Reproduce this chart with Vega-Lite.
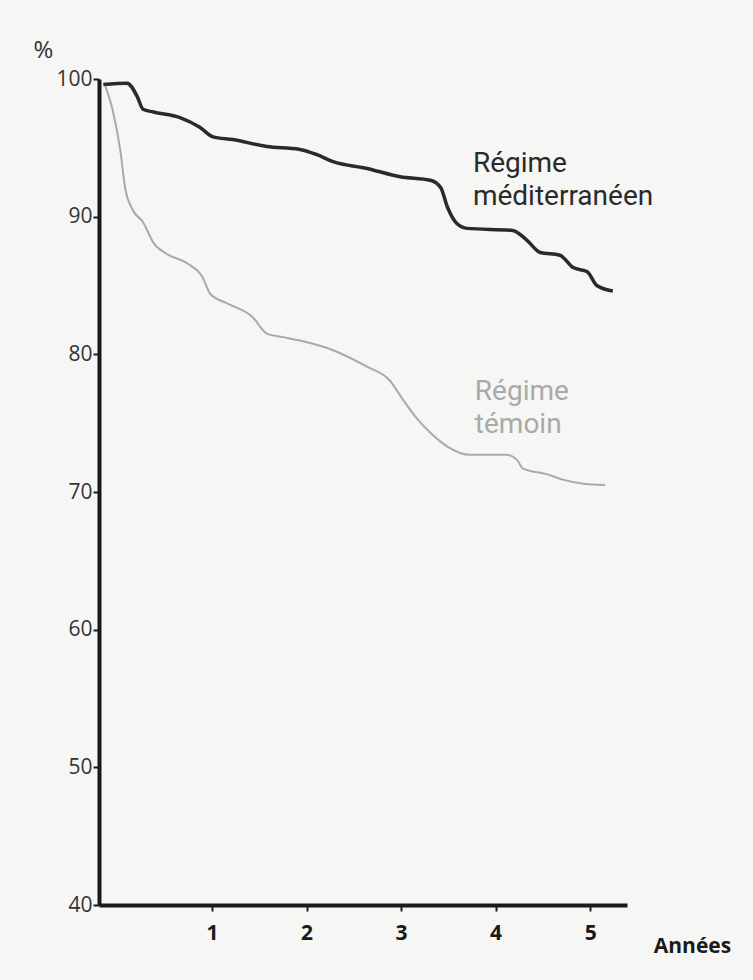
{
  "$schema": "https://vega.github.io/schema/vega-lite/v6.json",
  "width": 528,
  "height": 826,
  "autosize": "none",
  "padding": {"left": 99, "top": 79, "right": 126, "bottom": 75},
  "background": "#f6f6f4",
  "config": {
    "view": {"stroke": null},
    "font": "Open Sans",
    "axis": {"grid": false, "domainColor": "#1a1a1a", "tickColor": "#1a1a1a", "domainWidth": 4, "tickWidth": 2, "tickSize": 6}
  },
  "datasets": {
    "curves": [
      {"annees": -0.15, "pct": 99.6, "regime": "Régime méditerranéen"},
      {"annees": 0.1, "pct": 99.7, "regime": "Régime méditerranéen"},
      {"annees": 0.21, "pct": 98.7, "regime": "Régime méditerranéen"},
      {"annees": 0.27, "pct": 97.8, "regime": "Régime méditerranéen"},
      {"annees": 0.38, "pct": 97.6, "regime": "Régime méditerranéen"},
      {"annees": 0.66, "pct": 97.2, "regime": "Régime méditerranéen"},
      {"annees": 0.87, "pct": 96.5, "regime": "Régime méditerranéen"},
      {"annees": 1.01, "pct": 95.8, "regime": "Régime méditerranéen"},
      {"annees": 1.22, "pct": 95.6, "regime": "Régime méditerranéen"},
      {"annees": 1.58, "pct": 95.1, "regime": "Régime méditerranéen"},
      {"annees": 1.92, "pct": 94.9, "regime": "Régime méditerranéen"},
      {"annees": 2.11, "pct": 94.5, "regime": "Régime méditerranéen"},
      {"annees": 2.28, "pct": 94.0, "regime": "Régime méditerranéen"},
      {"annees": 2.64, "pct": 93.5, "regime": "Régime méditerranéen"},
      {"annees": 2.99, "pct": 92.9, "regime": "Régime méditerranéen"},
      {"annees": 3.31, "pct": 92.65, "regime": "Régime méditerranéen"},
      {"annees": 3.42, "pct": 92.1, "regime": "Régime méditerranéen"},
      {"annees": 3.49, "pct": 90.7, "regime": "Régime méditerranéen"},
      {"annees": 3.59, "pct": 89.5, "regime": "Régime méditerranéen"},
      {"annees": 3.7, "pct": 89.15, "regime": "Régime méditerranéen"},
      {"annees": 4.18, "pct": 89.0, "regime": "Régime méditerranéen"},
      {"annees": 4.33, "pct": 88.3, "regime": "Régime méditerranéen"},
      {"annees": 4.47, "pct": 87.4, "regime": "Régime méditerranéen"},
      {"annees": 4.68, "pct": 87.2, "regime": "Régime méditerranéen"},
      {"annees": 4.82, "pct": 86.3, "regime": "Régime méditerranéen"},
      {"annees": 4.97, "pct": 86.0, "regime": "Régime méditerranéen"},
      {"annees": 5.07, "pct": 85.0, "regime": "Régime méditerranéen"},
      {"annees": 5.24, "pct": 84.6, "regime": "Régime méditerranéen"},
      {"annees": -0.13, "pct": 99.5, "regime": "Régime témoin"},
      {"annees": -0.05, "pct": 97.7, "regime": "Régime témoin"},
      {"annees": 0.03, "pct": 94.8, "regime": "Régime témoin"},
      {"annees": 0.08, "pct": 92.1, "regime": "Régime témoin"},
      {"annees": 0.16, "pct": 90.5, "regime": "Régime témoin"},
      {"annees": 0.27, "pct": 89.6, "regime": "Régime témoin"},
      {"annees": 0.38, "pct": 88.1, "regime": "Régime témoin"},
      {"annees": 0.52, "pct": 87.3, "regime": "Régime témoin"},
      {"annees": 0.74, "pct": 86.6, "regime": "Régime témoin"},
      {"annees": 0.9, "pct": 85.6, "regime": "Régime témoin"},
      {"annees": 0.98, "pct": 84.4, "regime": "Régime témoin"},
      {"annees": 1.16, "pct": 83.7, "regime": "Régime témoin"},
      {"annees": 1.43, "pct": 82.7, "regime": "Régime témoin"},
      {"annees": 1.58, "pct": 81.5, "regime": "Régime témoin"},
      {"annees": 1.75, "pct": 81.25, "regime": "Régime témoin"},
      {"annees": 1.93, "pct": 81.0, "regime": "Régime témoin"},
      {"annees": 2.28, "pct": 80.3, "regime": "Régime témoin"},
      {"annees": 2.64, "pct": 79.1, "regime": "Régime témoin"},
      {"annees": 2.88, "pct": 78.1, "regime": "Régime témoin"},
      {"annees": 3.02, "pct": 76.7, "regime": "Régime témoin"},
      {"annees": 3.16, "pct": 75.4, "regime": "Régime témoin"},
      {"annees": 3.31, "pct": 74.3, "regime": "Régime témoin"},
      {"annees": 3.49, "pct": 73.3, "regime": "Régime témoin"},
      {"annees": 3.73, "pct": 72.7, "regime": "Régime témoin"},
      {"annees": 4.12, "pct": 72.7, "regime": "Régime témoin"},
      {"annees": 4.23, "pct": 72.3, "regime": "Régime témoin"},
      {"annees": 4.29, "pct": 71.7, "regime": "Régime témoin"},
      {"annees": 4.54, "pct": 71.3, "regime": "Régime témoin"},
      {"annees": 4.71, "pct": 70.9, "regime": "Régime témoin"},
      {"annees": 4.93, "pct": 70.6, "regime": "Régime témoin"},
      {"annees": 5.16, "pct": 70.5, "regime": "Régime témoin"}
    ],
    "labels": [
      {"annees": 3.76, "pct": 93.23, "texte": "Régime\nméditerranéen", "regime": "Régime méditerranéen"},
      {"annees": 3.78, "pct": 76.67, "texte": "Régime\ntémoin", "regime": "Régime témoin"}
    ]
  },
  "layer": [
    {
      "data": {"name": "curves"},
      "mark": {"type": "line", "interpolate": "monotone", "clip": false},
      "encoding": {
        "x": {
          "field": "annees", "type": "quantitative",
          "scale": {"domain": [-0.196, 5.39], "nice": false, "zero": false},
          "axis": {
            "values": [1, 2, 3, 4, 5], "format": "d", "labelFontWeight": "bold", "labelFontSize": 21, "labelColor": "#1a1a1a",
            "labelPadding": 11, "title": "Années", "titleFontWeight": "bold", "titleFontSize": 21, "titleColor": "#1a1a1a",
            "titleX": 593, "titleY": 47, "titleAnchor": null, "titleAlign": "center", "titleBaseline": "alphabetic"
          }
        },
        "y": {
          "field": "pct", "type": "quantitative",
          "scale": {"domain": [40, 100], "nice": false, "zero": false},
          "axis": {
            "values": [40, 50, 60, 70, 80, 90, 100], "labelFontSize": 21, "labelColor": "#333333", "labelPadding": 1,
            "title": "%", "titleAngle": 0, "titleX": -56, "titleY": -29, "titleAlign": "center", "titleBaseline": "middle",
            "titleFontSize": 24, "titleFontWeight": "normal", "titleColor": "#333333"
          }
        },
        "color": {
          "field": "regime", "type": "nominal",
          "scale": {"domain": ["Régime méditerranéen", "Régime témoin"], "range": ["#2a2a2a", "#a9a9a9"]},
          "legend": null
        },
        "strokeWidth": {
          "field": "regime", "type": "nominal",
          "scale": {"domain": ["Régime méditerranéen", "Régime témoin"], "range": [3.5, 2]},
          "legend": null
        }
      }
    },
    {
      "data": {"name": "labels"},
      "mark": {"type": "text", "align": "left", "baseline": "alphabetic", "font": "Roboto", "fontSize": 28, "lineBreak": "\n", "lineHeight": 33},
      "encoding": {
        "x": {"field": "annees", "type": "quantitative"},
        "y": {"field": "pct", "type": "quantitative"},
        "text": {"field": "texte"},
        "color": {"field": "regime", "type": "nominal", "legend": null}
      }
    }
  ]
}
